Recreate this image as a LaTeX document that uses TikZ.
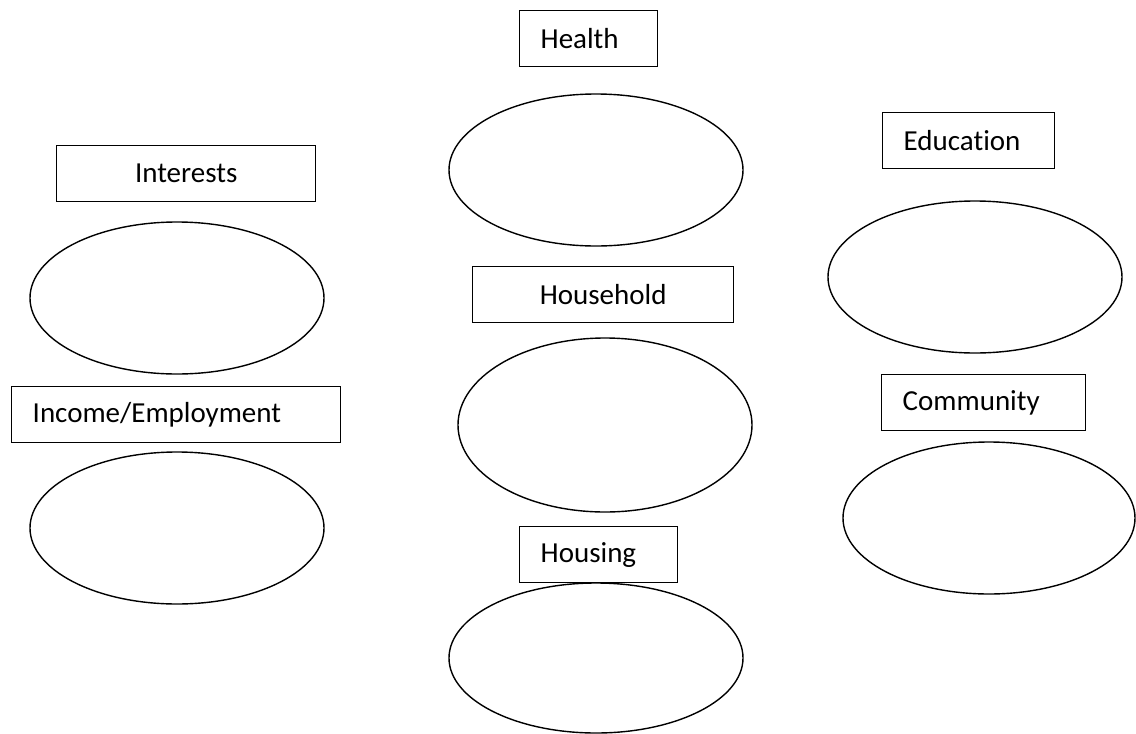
\documentclass[tikz,border=0pt]{standalone}
\usepackage{fontspec}
\setmainfont{Carlito}[Ligatures=NoCommon]
\usetikzlibrary{shapes.geometric,positioning}

\begin{document}
\begin{tikzpicture}[
	x=1pt,y=-1pt,
	lbl/.style={
		draw,
		rectangle,
		line width=1.4pt,
		minimum height=56pt,
		inner xsep=21pt,
		inner ysep=0pt,
		anchor=north west,
		font=\fontsize{29}{35}\selectfont
	},
	oval/.style={
		draw,
		ellipse,
		line width=1.4pt,
		inner sep=0pt,
		minimum width=294pt,
		minimum height=152pt
	}
	]
	\useasboundingbox[fill=white] (0,0) rectangle (1136,734);
	
	% left column
	\node[lbl,text width=217pt,align=center] at (56,145) (interests) {Interests};
	\node[oval] at (177,298) (interestsE) {};
	\node[lbl,text width=287pt,align=left] at (11,386) (income) {Income/Employment};
	\node[oval] at (177,528) (incomeE) {};
	
	% middle column
	\node[lbl,text width=96pt,align=left] at (519,10) (health) {Health};
	\node[oval] at (596,170) (healthE) {};
	\node[lbl,text width=219pt,align=center] at (472,266) (household) {Household};
	\node[oval,minimum height=174pt] at (605,425) (householdE) {};
	\node[lbl,text width=116pt,align=left] at (519,526) (housing) {Housing};
	\node[oval,minimum height=150pt] at (596,658) (housingE) {};
	
	% right column
	\node[lbl,text width=130pt,align=left] at (882,112) (education) {Education};
	\node[oval] at (975,277) (educationE) {};
	\node[lbl,text width=162pt,align=left] at (881,374) (community) {Community};
	\node[oval,minimum width=292pt] at (989,518) (communityE) {};
\end{tikzpicture}
\end{document}
